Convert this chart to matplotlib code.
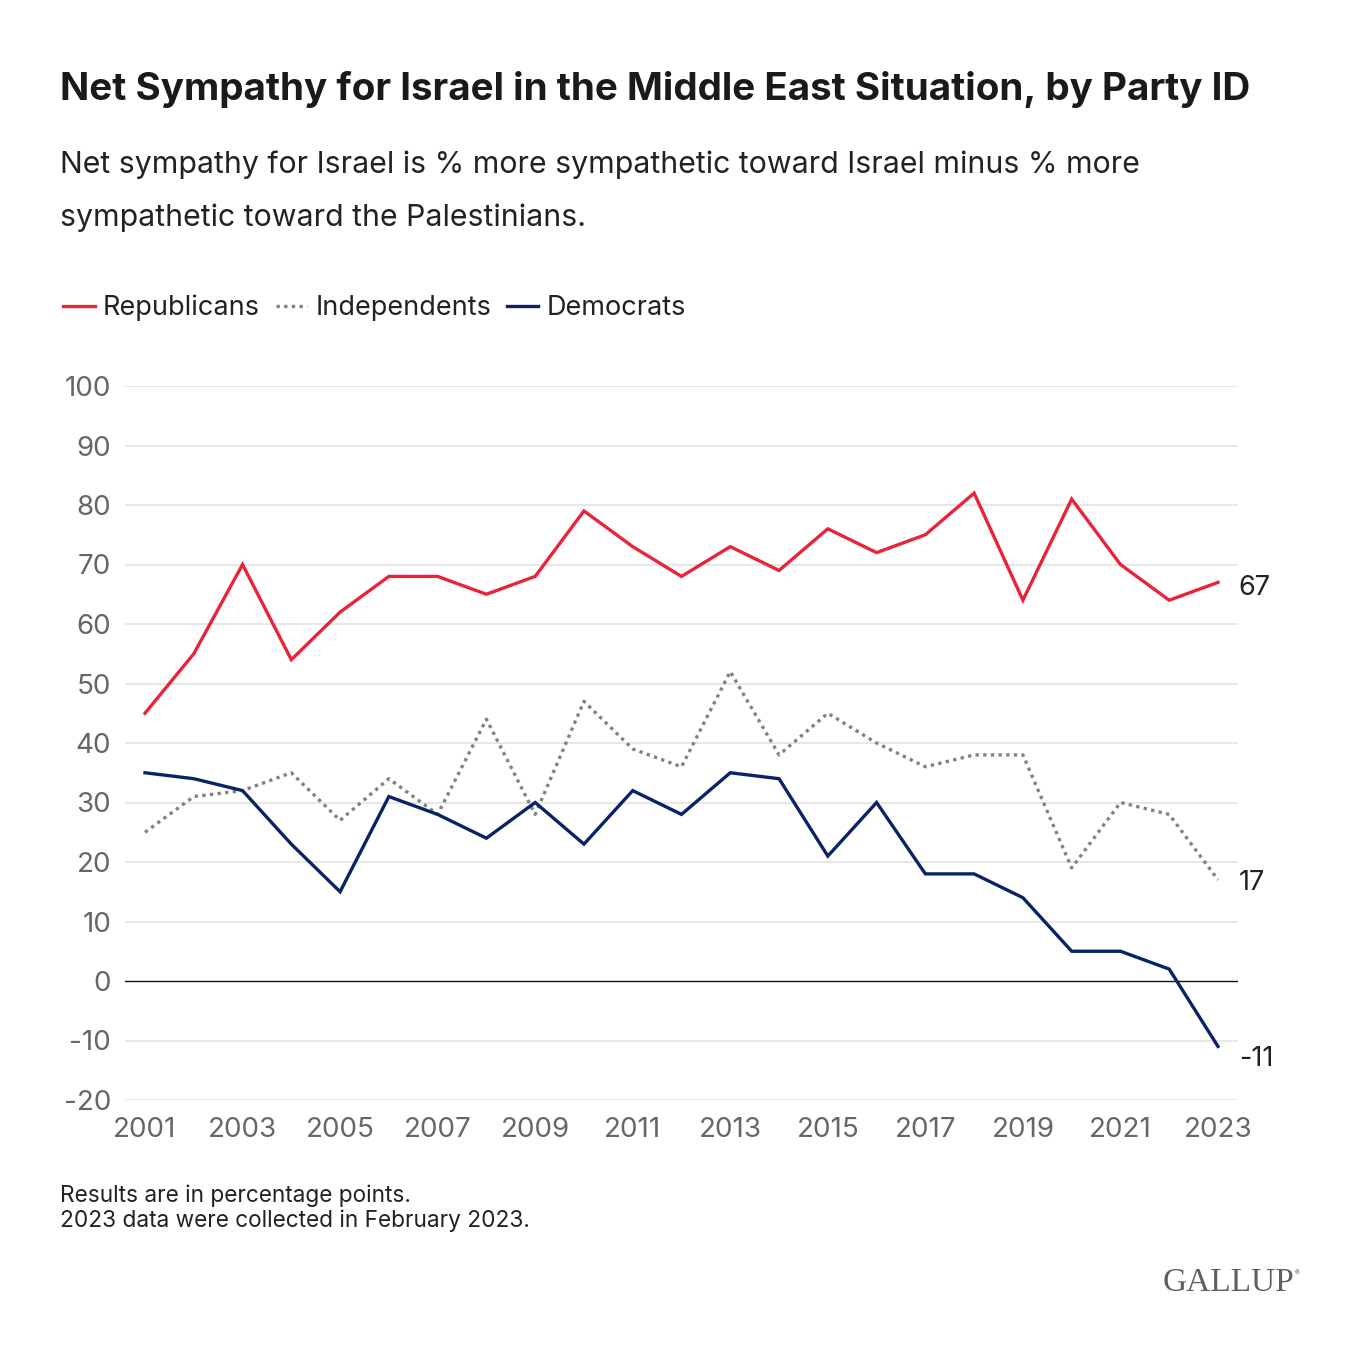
import matplotlib
matplotlib.use("Agg")
import matplotlib.pyplot as plt

years = list(range(2001, 2024))
republicans = [45, 55, 70, 54, 62, 68, 68, 65, 68, 79, 73, 68, 73, 69, 76, 72, 75, 82, 64, 81, 70, 64, 67]
independents = [25, 31, 32, 35, 27, 34, 28, 44, 28, 47, 39, 36, 52, 38, 45, 40, 36, 38, 38, 19, 30, 28, 17]
democrats = [35, 34, 32, 23, 15, 31, 28, 24, 30, 23, 32, 28, 35, 34, 21, 30, 18, 18, 14, 5, 5, 2, -11]
series_names = ["Republicans", "Independents", "Democrats"]
y_ticks = [-20, -10, 0, 10, 20, 30, 40, 50, 60, 70, 80, 90, 100]
x_ticks = list(range(2001, 2024, 2))

plt.rcParams['font.family'] = ['Inter', 'DejaVu Sans']

W = H = 1360
fig = plt.figure(figsize=(13.6, 13.6), dpi=100)
ax = fig.add_axes([125 / W, 1 - 1100 / H, (1238 - 125) / W, (1100 - 386) / H])

red = '#E8243A'
gray = '#808285'
navy = '#0A2366'

l1, = ax.plot(years, republicans, color=red, lw=2.4, label=series_names[0], solid_joinstyle='miter')
l2, = ax.plot(years, independents, color=gray, lw=2.4, linestyle=(0, (1, 1.3)), label=series_names[1])
l3, = ax.plot(years, democrats, color=navy, lw=2.4, label=series_names[2], solid_joinstyle='miter')

x0 = 2001 - 20 / 48.77
x1 = 2023 + 20 / 48.77
ax.set_xlim(x0, x1)
ax.set_ylim(-20, 100)
ax.set_yticks(y_ticks)
ax.set_xticks(x_ticks)
ax.set_yticklabels([str(v) for v in y_ticks])
ax.set_xticklabels([str(v) for v in x_ticks])
ax.tick_params(axis='both', length=0, labelsize=20, labelcolor='#666666')
ax.tick_params(axis='y', pad=10)
ax.tick_params(axis='x', pad=12)
for s in ax.spines.values():
    s.set_visible(False)
for v in y_ticks:
    if v != 0:
        ax.axhline(v, color='#e3e3e3', lw=1.2, zorder=0)
ax.axhline(0, color='#111111', lw=1.0, zorder=1)

# end labels (pixel offsets as in reference)
label_offsets = [-4, -2, -9]
for vals, dy in zip((republicans, independents, democrats), label_offsets):
    ax.annotate(str(vals[-1]), xy=(years[-1], vals[-1]), xytext=(15, dy),
                textcoords='offset points', fontsize=19.5, color='#222222',
                va='center', ha='left', annotation_clip=False)

# title and subtitle
fig.text(60 / W, 1 - 89 / H, "Net Sympathy for Israel in the Middle East Situation, by Party ID",
         fontsize=27.8, fontweight='bold', color='#1a1a1a', va='center', ha='left')
fig.text(60 / W, 1 - 165 / H, "Net sympathy for Israel is % more sympathetic toward Israel minus % more",
         fontsize=21.8, color='#222222', va='center', ha='left')
fig.text(60 / W, 1 - 218 / H, "sympathetic toward the Palestinians.",
         fontsize=21.8, color='#222222', va='center', ha='left')

leg = fig.legend(handles=[l1, l2, l3], loc='center left', bbox_to_anchor=(39 / W, 1 - 308 / H),
                 ncol=3, frameon=False, fontsize=19.5, handlelength=1.15, handletextpad=0.3,
                 columnspacing=0.6, labelcolor='#222222')

fig.text(60 / W, 1 - 1196 / H, "Results are in percentage points.", fontsize=16.3, color='#222222',
         va='center', ha='left')
fig.text(60 / W, 1 - 1221 / H, "2023 data were collected in February 2023.", fontsize=16.3, color='#222222',
         va='center', ha='left')

fig.text(1294 / W, 1 - 1283 / H, "GALLUP", family=['Liberation Serif', 'DejaVu Serif'], fontsize=24,
         color='#5f6062', va='center', ha='right')
fig.text(1295 / W, 1 - 1273 / H, "®", fontsize=5, color='#5f6062', va='center', ha='left')

fig.savefig('out.png', dpi=100, facecolor='white')
